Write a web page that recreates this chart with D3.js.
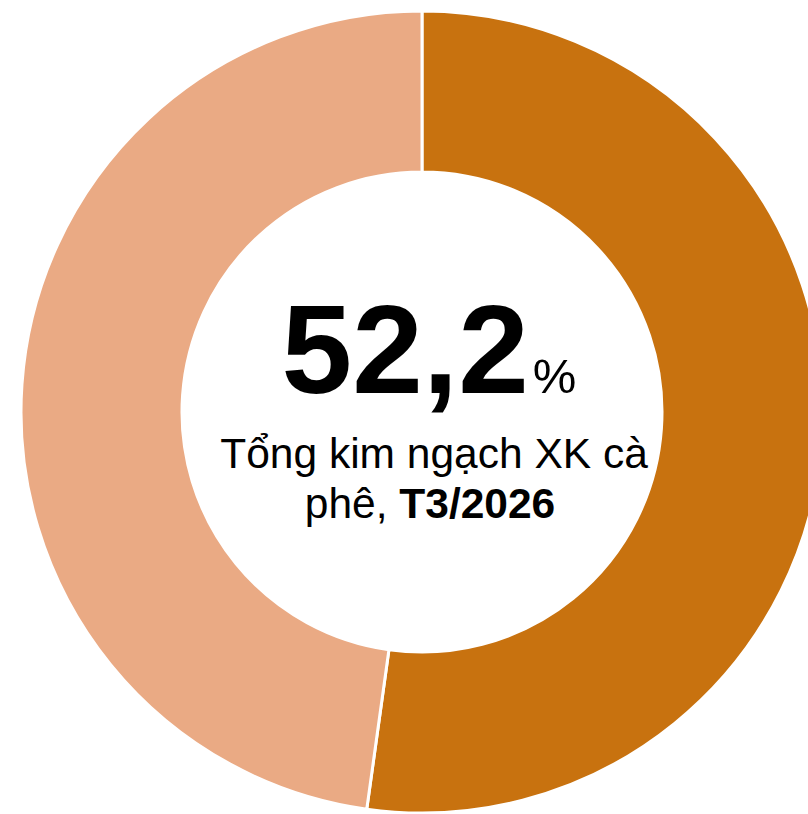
<!DOCTYPE html>
<html><head><meta charset="utf-8">
<script src="https://cdn.jsdelivr.net/npm/d3@7"></script>
<style>html,body{margin:0;padding:0;background:#fff;overflow:hidden}</style>
</head><body>
<svg id="chart" width="808" height="814"></svg>
<script>
const categories = ["Phần chiếm", "Còn lại"];
const values = [52.2, 47.8];
const colors = ["#C8720F", "#EAAA84"];
const bigLabel = "52,2";
const unitLabel = "%";
const subLine1 = "Tổng kim ngạch XK cà";
const subLine2a = "phê, ";
const subLine2b = "T3/2026";

const svg = d3.select("#chart");
const cx = 422, cy = 412, rOuter = 401, rInner = 240;
const g = svg.append("g").attr("transform", `translate(${cx},${cy})`);
const pie = d3.pie().sort(null).value(d => d);
const arc = d3.arc().innerRadius(rInner).outerRadius(rOuter);
const color = d3.scaleOrdinal().domain(categories).range(colors);
g.selectAll("path").data(pie(values)).join("path")
  .attr("d", arc)
  .attr("fill", (d, i) => color(categories[i]))
  .attr("stroke", "#fff").attr("stroke-width", 3);

const font = "'Liberation Sans', Arial, sans-serif";
const t1 = svg.append("text").attr("x", 429).attr("y", 393)
  .attr("text-anchor", "middle").attr("font-family", font).attr("fill", "#000");
t1.append("tspan").attr("font-size", 127).attr("font-weight", "bold").text(bigLabel);
t1.append("tspan").attr("font-size", 49).attr("dx", 4).text(unitLabel);

svg.append("text").attr("x", 434).attr("y", 468).attr("text-anchor", "middle")
  .attr("font-family", font).attr("font-size", 42.5).attr("fill", "#000").text(subLine1);
const t3 = svg.append("text").attr("x", 430).attr("y", 518).attr("text-anchor", "middle")
  .attr("font-family", font).attr("font-size", 42.5).attr("fill", "#000");
t3.append("tspan").text(subLine2a);
t3.append("tspan").attr("font-weight", "bold").text(subLine2b);
</script>
</body></html>
